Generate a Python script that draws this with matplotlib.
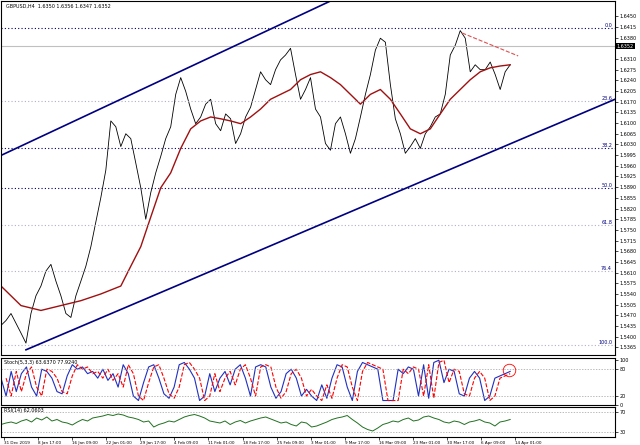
import matplotlib
matplotlib.use("Agg")
import matplotlib.pyplot as plt
import numpy as np

price = [1.5437,1.5453,1.5476,1.5444,1.5412,1.5379,1.5476,1.5534,1.5566,1.5615,1.5637,1.5582,1.5534,1.5476,1.5463,1.5534,1.5582,1.5631,1.5695,1.5776,1.5856,1.5946,1.6107,1.6088,1.6023,1.6065,1.6049,1.5969,1.5888,1.5785,1.5872,1.5937,1.5991,1.6049,1.6088,1.6194,1.6249,1.6204,1.6146,1.6098,1.6120,1.6162,1.6178,1.6098,1.6075,1.6130,1.6114,1.6033,1.6065,1.6120,1.6152,1.6210,1.6268,1.6242,1.6226,1.6275,1.6307,1.6323,1.6345,1.6259,1.6178,1.6210,1.6249,1.6146,1.6120,1.6033,1.6011,1.6098,1.6120,1.6065,1.6001,1.6049,1.6120,1.6194,1.6259,1.6339,1.6378,1.6365,1.6226,1.6114,1.6065,1.6001,1.6023,1.6049,1.6017,1.6065,1.6088,1.6120,1.6130,1.6194,1.6323,1.6355,1.6403,1.6378,1.6268,1.6291,1.6275,1.6275,1.6300,1.6259,1.6210,1.6268,1.6291]
ma_x = [0,20,40,60,80,100,120] + list(range(130,520,10))
ma = [1.5566,1.5502,1.5486,1.5502,1.5518,1.5540,1.5566,1.5631,1.5695,1.5792,1.5888,1.5937,1.6017,1.6081,1.6107,1.6120,1.6114,1.6107,1.6098,1.6120,1.6146,1.6178,1.6194,1.6210,1.6242,1.6259,1.6268,1.6249,1.6226,1.6194,1.6162,1.6194,1.6210,1.6178,1.6130,1.6081,1.6065,1.6081,1.6130,1.6178,1.6210,1.6242,1.6268,1.6281,1.6287,1.6291]
fib_levels = [1.6413,1.6172,1.6017,1.5888,1.5766,1.5615,1.5373]
fib_labels = ["0.0","23.6","38.2","50.0","61.8","76.4","100.0"]
fib_colors = ["#000060","#b0b0c8","#000060","#000060","#b0b0c8","#b0b0c8","#b0b0c8"]
upper_ch = [(0,1.5994),(330,1.6500)]
lower_ch = [(25,1.5357),(615,1.6178)]
trend = [(462,1.6395),(518,1.6320)]
last_price = 1.6352
price_ticks = [1.6450,1.6415,1.6380,1.6310,1.6275,1.6240,1.6205,1.6170,1.6135,1.6100,1.6065,1.6030,1.5995,1.5960,1.5925,1.5890,1.5855,1.5820,1.5785,1.5750,1.5715,1.5680,1.5645,1.5610,1.5575,1.5540,1.5505,1.5470,1.5435,1.5400,1.5365]
stoch = [60,20,75,30,70,85,40,20,80,75,60,30,25,65,90,80,85,70,75,60,80,55,70,40,90,70,20,10,50,85,90,60,25,15,40,90,95,80,60,10,20,70,30,60,75,45,80,90,60,20,85,90,85,40,15,30,70,80,60,20,35,20,10,45,15,60,90,85,40,10,75,95,90,85,80,10,10,10,80,70,85,80,20,90,15,95,100,50,80,75,25,20,60,75,60,10,20,60,65,70,75]
rsi = [45,48,50,47,52,55,50,58,54,60,52,55,50,48,44,50,55,52,58,60,62,65,63,66,64,60,58,55,50,52,40,45,48,52,50,55,60,63,65,62,58,52,50,48,52,45,50,53,48,52,55,58,60,56,52,48,50,45,42,50,48,40,42,46,50,55,58,60,63,55,48,40,35,32,38,45,48,52,50,55,58,52,54,60,62,58,55,50,48,52,50,45,50,52,55,50,48,42,50,52,55]
dates = ["31 Dec 2019","8 Jan 17:00","16 Jan 09:00","22 Jan 01:00","29 Jan 17:00","4 Feb 09:00","11 Feb 01:00","18 Feb 17:00","25 Feb 09:00","3 Mar 01:00","9 Mar 17:00","16 Mar 09:00","23 Mar 01:00","30 Mar 17:00","6 Apr 09:00","14 Apr 01:00"]

W, H = 640, 445
fig = plt.figure(figsize=(6.4,4.45), dpi=100)
def ax_at(top, bottom):
    return fig.add_axes([1/W, 1-bottom/H, 614/W, (bottom-top)/H])
ax = ax_at(1,355)
ax2 = ax_at(358,405)
ax3 = ax_at(407,437)
XMAX = 615
px = np.arange(len(price))*5
ax.plot(px, price, color="black", lw=0.6)
ax.plot(ma_x, ma, color="#a01010", lw=1.0)
for lv, lb, c in zip(fib_levels, fib_labels, fib_colors):
    ax.axhline(lv, color=c, ls=(0,(1,2)), lw=0.8)
    ax.text(612, lv, lb, fontsize=3.5, color="#000080", ha="right", va="bottom")
ax.axhline(last_price, color="#c0c0c0", lw=0.8)
ax.plot(*zip(*upper_ch), color="#000080", lw=1.2)
ax.plot(*zip(*lower_ch), color="#000080", lw=1.2)
ax.plot(*zip(*trend), color="#e05050", lw=0.8, ls="--")
ax.set_xlim(0, XMAX); ax.set_ylim(1.5340, 1.6500)
ax.yaxis.tick_right()
ax.set_yticks(price_ticks)
ax.set_yticklabels([f"{t:.4f}" for t in price_ticks], fontsize=3.5)
ax.set_xticks([])
ax.text(1.003, last_price, f"{last_price:.4f}", transform=ax.get_yaxis_transform(), fontsize=3.5,
        color="white", va="center", ha="left", bbox=dict(fc="black", ec="none", pad=0.4))
ax.text(5, 1.6490, "GBPUSD,H4  1.6350 1.6356 1.6347 1.6352", fontsize=3.5, va="top")

sx = np.arange(len(stoch))*5.1
ax2.plot(sx, stoch, color="#2030c0", lw=0.8)
ax2.plot(sx[1:], stoch[:-1], color="red", lw=0.8, ls="--")
for l in [80,20]:
    ax2.axhline(l, color="#a0a0a0", ls=(0,(2,2)), lw=0.5)
ax2.set_xlim(0, XMAX); ax2.set_ylim(0,105)
ax2.yaxis.tick_right(); ax2.set_yticks([0,20,80,100]); ax2.set_yticklabels(["0","20","80","100"], fontsize=3.5)
ax2.set_xticks([])
ax2.plot([509],[78], 'o', ms=9, mfc="none", mec="red", mew=0.6, ls="none")
ax2.text(3, 100, "Stoch(5,3,3) 63.6370 77.9240", fontsize=3.5, va="top")

rx = np.arange(len(rsi))*5.1
ax3.plot(rx, rsi, color="#207020", lw=0.7)
for l in [70,30]:
    ax3.axhline(l, color="#a0a0a0", ls=(0,(2,2)), lw=0.5)
ax3.set_xlim(0, XMAX); ax3.set_ylim(20,80)
ax3.yaxis.tick_right(); ax3.set_yticks([30,70]); ax3.set_yticklabels(["30","70"], fontsize=3.5)
ax3.text(3, 78, "RSI(14) 62.0603", fontsize=3.5, va="top")
ax3.set_xticks(np.linspace(3, 515, len(dates)))
ax3.set_xticklabels(dates, fontsize=3, ha="left")
for a in (ax, ax2, ax3):
    a.tick_params(length=2, width=0.5, pad=1)
    for s in a.spines.values(): s.set_linewidth(0.8)
fig.savefig("out.png", dpi=100)
